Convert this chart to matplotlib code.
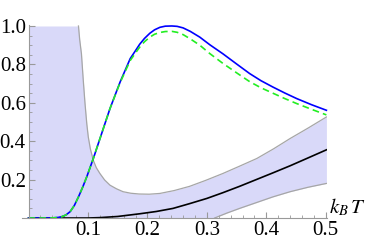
import numpy as np
import matplotlib
matplotlib.use('Agg')
import matplotlib.pyplot as plt
from matplotlib.ticker import MultipleLocator, FormatStrFormatter

plt.rcParams['font.family'] = 'Liberation Serif'
plt.rcParams['mathtext.fontset'] = 'stix'

# values
blue_x = [0.0, 0.03, 0.04, 0.05, 0.056, 0.063, 0.070, 0.077, 0.084, 0.091, 0.098, 0.109,
          0.123, 0.137, 0.154, 0.171, 0.18, 0.187, 0.195, 0.204, 0.212, 0.221, 0.23,
          0.241, 0.25, 0.260, 0.272, 0.288, 0.305, 0.327, 0.35, 0.372, 0.391, 0.411,
          0.431, 0.451, 0.476, 0.501]
blue_y = [0.0, 0.0, 0.0005, 0.003, 0.007, 0.016, 0.033, 0.065, 0.11, 0.16, 0.215, 0.31,
          0.44, 0.57, 0.708, 0.83, 0.872, 0.905, 0.935, 0.962, 0.98, 0.993, 0.999,
          1.0, 0.998, 0.99, 0.972, 0.942, 0.902, 0.855, 0.802, 0.752, 0.715, 0.682,
          0.651, 0.622, 0.59, 0.561]

green_x = [0.0, 0.03, 0.04, 0.05, 0.056, 0.063, 0.070, 0.077, 0.084, 0.091, 0.098, 0.109,
           0.123, 0.137, 0.154, 0.171, 0.18, 0.187, 0.195, 0.204, 0.212, 0.221, 0.23,
           0.241, 0.25, 0.260, 0.272, 0.288, 0.305, 0.327, 0.35, 0.372, 0.391, 0.411,
           0.431, 0.451, 0.476, 0.501]
green_y = [0.0, 0.0, 0.0005, 0.003, 0.007, 0.016, 0.033, 0.065, 0.11, 0.16, 0.215, 0.31,
           0.44, 0.57, 0.705, 0.82, 0.86, 0.89, 0.918, 0.942, 0.957, 0.966, 0.971,
           0.972, 0.967, 0.955, 0.933, 0.90, 0.856, 0.805, 0.756, 0.71, 0.678, 0.65,
           0.622, 0.596, 0.566, 0.537]

upper_x = [0.0, 0.084, 0.086, 0.089, 0.092, 0.095, 0.098, 0.1005, 0.104, 0.109, 0.114,
           0.120, 0.128, 0.137, 0.148, 0.159, 0.172, 0.186, 0.203, 0.221, 0.245, 0.271,
           0.298, 0.327, 0.355, 0.384, 0.412, 0.44, 0.47, 0.501]
upper_y = [1.0, 1.0, 0.93, 0.855, 0.72, 0.596, 0.49, 0.422, 0.36, 0.30, 0.262,
           0.232, 0.198, 0.171, 0.152, 0.137, 0.129, 0.125, 0.124, 0.128, 0.143, 0.165,
           0.196, 0.232, 0.27, 0.31, 0.36, 0.414, 0.468, 0.526]

lower_x = [0.0, 0.313, 0.333, 0.355, 0.383, 0.411, 0.44, 0.47, 0.501]
lower_y = [0.0, 0.0, 0.025, 0.05, 0.08, 0.11, 0.137, 0.16, 0.18]

black_x = [0.0, 0.1, 0.12, 0.15, 0.187, 0.215, 0.243, 0.27, 0.30, 0.327, 0.355, 0.383,
           0.411, 0.44, 0.468, 0.501]
black_y = [0.0, 0.0, 0.002, 0.008, 0.022, 0.034, 0.05, 0.074, 0.102, 0.132, 0.165, 0.2,
           0.235, 0.272, 0.31, 0.355]

fig = plt.figure(figsize=(3.74, 2.41), dpi=100)
ax = fig.add_axes([0.0588, 0.0954, 0.8155, 0.8008])

# band between the lower and upper bounds
xs = np.union1d(upper_x, lower_x)
up = np.interp(xs, upper_x, upper_y)
lo = np.interp(xs, lower_x, lower_y)
ax.fill_between(xs, lo, up, color='#d9d9f9', lw=0)
ax.plot(upper_x[1:], upper_y[1:], color='#a6a6a6', lw=0.9)
ax.plot(lower_x[1:], lower_y[1:], color='#a6a6a6', lw=0.9)

ax.plot(black_x, black_y, color='black', lw=1.2)
ax.plot(blue_x, blue_y, color='#0000ff', lw=1.2, clip_on=False)
ax.plot(green_x, green_y, color='#22ee22', lw=1.2, dashes=(4, 2.5), clip_on=False)

ax.set_xlim(-0.011, 0.502)
ax.set_ylim(0, 1.005)

for s in ['top', 'right']:
    ax.spines[s].set_visible(False)
ax.spines['left'].set_position(('data', 0))
for s in ['left', 'bottom']:
    ax.spines[s].set_color('#999999')
    ax.spines[s].set_linewidth(0.8)

ax.xaxis.set_major_locator(MultipleLocator(0.1))
ax.xaxis.set_minor_locator(MultipleLocator(0.02))
ax.yaxis.set_major_locator(MultipleLocator(0.2))
ax.yaxis.set_minor_locator(MultipleLocator(0.05))
ax.xaxis.set_major_formatter(FormatStrFormatter('%.1f'))
ax.yaxis.set_major_formatter(FormatStrFormatter('%.1f'))
ax.set_xticks([0.1, 0.2, 0.3, 0.4, 0.5])
ax.set_yticks([0.2, 0.4, 0.6, 0.8, 1.0])
ax.tick_params(which='both', direction='in', color='#999999', labelsize=15, pad=2)
ax.tick_params(which='major', length=4, width=0.8)
ax.tick_params(which='minor', length=2.5, width=0.6)
ax.set_facecolor('none')

ax.text(0.505, 0.0, r'$k_B\,T$', fontsize=15, ha='left', va='bottom')

fig.savefig('out.png', dpi=100)
